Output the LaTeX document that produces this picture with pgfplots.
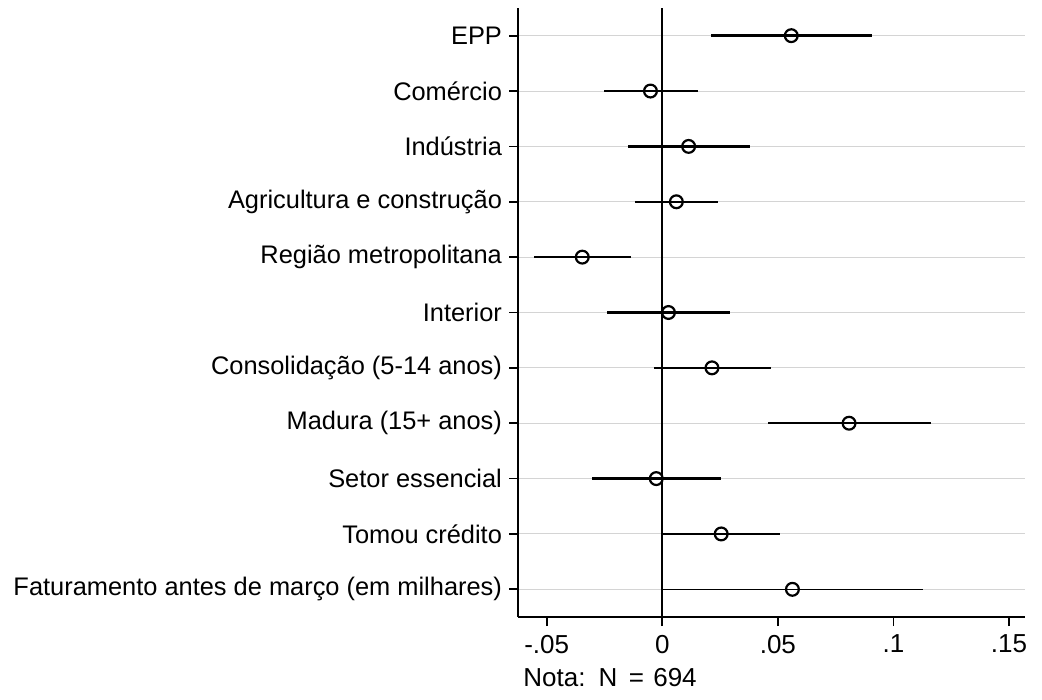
\documentclass[border=0pt]{standalone}
\usepackage{fontspec}
\setmainfont{Liberation Sans}
\usepackage{pgfplots}
\usepackage{pgfplotstable}
\pgfplotsset{compat=1.18}
\pgfplotstableread{
y b lo hi
11 0.0558 0.0209 0.0907
10 -0.0051 -0.0253 0.0156
9 0.0114 -0.0149 0.0381
8 0.0061 -0.0116 0.0241
7 -0.0346 -0.0553 -0.0137
6 0.0027 -0.0238 0.0294
5 0.0215 -0.0036 0.0472
4 0.0808 0.0457 0.1161
3 -0.0026 -0.0303 0.0252
2 0.0255 0.0000 0.0511
}\coefs
\pgfplotstableread{
y b lo hi
1 0.0563 0.0000 0.1128
}\coefthin
\begin{document}
\frenchspacing
\begin{tikzpicture}
\path[use as bounding box] (0,0) rectangle (521pt,350pt);
\begin{axis}[
  at={(259pt,41.5pt)}, anchor=south west,
  scale only axis, width=253.5pt, height=304.5pt,
  xmin=-0.0624, xmax=0.1569, ymin=0.5, ymax=11.5,
  axis lines=left,
  axis line style={-, line width=1.1pt, black},
  every outer x axis line/.append style={-},
  every outer y axis line/.append style={-},
  tick align=outside,
  major tick length=4.5pt,
  tick style={line width=0.9pt, black},
  xtick={-0.05,0,0.05,0.1,0.15},
  xticklabels={-.05,0,.05,.1,.15},
  ytick={1,2,3,4,5,6,7,8,9,10,11},
  yticklabels={Faturamento antes de março (em milhares),Tomou crédito,Setor essencial,Madura (15+ anos),Consolidação (5-14 anos),Interior,Região metropolitana,Agricultura e construção,Indústria,Comércio,EPP},
  ymajorgrids,
  major grid style={line width=0.5pt, color=black!17},
  yticklabel style={font=\fontsize{12.7}{15}\selectfont},
  xticklabel style={font=\fontsize{13}{15}\selectfont, yshift=-1pt},
  clip=false,
]
\addplot[black, line width=1.05pt] coordinates {(0,0.5) (0,11.5)};
\addplot[draw=none, mark=none,
  error bars/.cd, x dir=both, x explicit, error mark=none,
  error bar style={line width=1.2pt, black}]
  table[x=b, y=y, x error plus expr=\thisrow{hi}-\thisrow{b}, x error minus expr=\thisrow{b}-\thisrow{lo}] {\coefs};
\addplot[draw=none, mark=none,
  error bars/.cd, x dir=both, x explicit, error mark=none,
  error bar style={line width=0.7pt, black}]
  table[x=b, y=y, x error plus expr=\thisrow{hi}-\thisrow{b}, x error minus expr=\thisrow{b}-\thisrow{lo}] {\coefthin};
\addplot[only marks, mark=o, mark size=3.2pt, mark options={line width=1.1pt, black}]
  table[x=b, y=y] {\coefs};
\addplot[only marks, mark=o, mark size=3.2pt, mark options={line width=1.1pt, black}]
  table[x=b, y=y] {\coefthin};
\end{axis}
\node[anchor=base west, inner sep=0pt, font=\fontsize{13}{15}\selectfont] at (261.5pt,6.5pt) {Nota:\hspace{0.5em}N\hspace{0.45em}=\hspace{0.35em}694};
\end{tikzpicture}
\end{document}
